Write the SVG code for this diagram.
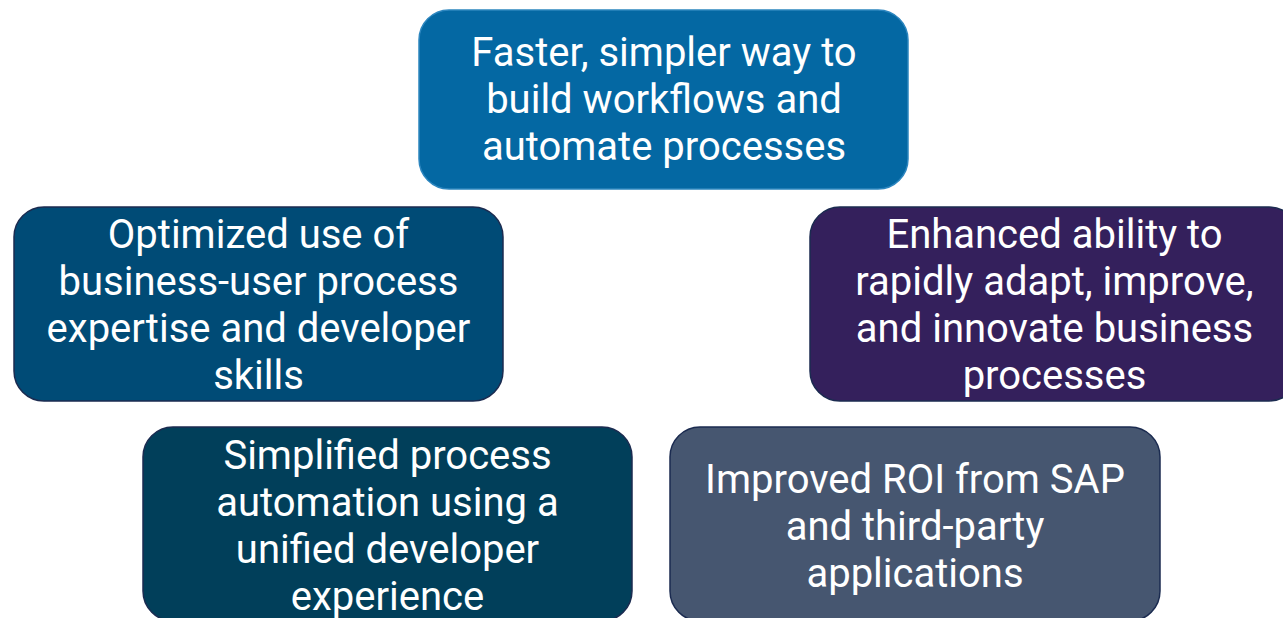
<svg xmlns="http://www.w3.org/2000/svg" width="1283" height="618" viewBox="0 0 1283 618">
<style>
.box{stroke-width:1.5}
.t{font-family:Roboto,"Liberation Sans",sans-serif;font-size:40px;font-weight:400;fill:#ffffff;text-anchor:middle}
</style>
<rect width="1283" height="618" fill="#ffffff"/>
<g id="n1"><rect class="box" x="419" y="10" width="489" height="179" rx="30" fill="#0468A3" stroke="#2d86bf"/>
<text class="t"><tspan x="664" y="66">Faster, simpler way to</tspan><tspan x="664" y="113">build workflows and</tspan><tspan x="664" y="160">automate processes</tspan></text></g>
<g id="n2"><rect class="box" x="14" y="207" width="489" height="194" rx="30" fill="#004B76" stroke="#1b2b50"/>
<text class="t"><tspan x="258.5" y="248">Optimized use of</tspan><tspan x="258.5" y="295">business-user process</tspan><tspan x="258.5" y="342">expertise and developer</tspan><tspan x="258.5" y="389">skills</tspan></text></g>
<g id="n3"><rect class="box" x="810" y="207" width="489" height="194" rx="30" fill="#34205C" stroke="#1b2b50"/>
<text class="t"><tspan x="1054.5" y="248">Enhanced ability to</tspan><tspan x="1054.5" y="295">rapidly adapt, improve,</tspan><tspan x="1054.5" y="342">and innovate business</tspan><tspan x="1054.5" y="389">processes</tspan></text></g>
<g id="n4"><rect class="box" x="143" y="427" width="489" height="194" rx="30" fill="#013F5A" stroke="#1b2b50"/>
<text class="t"><tspan x="387.5" y="469">Simplified process</tspan><tspan x="387.5" y="516">automation using a</tspan><tspan x="387.5" y="563">unified developer</tspan><tspan x="387.5" y="610">experience</tspan></text></g>
<g id="n5"><rect class="box" x="670" y="427" width="490" height="194" rx="30" fill="#465670" stroke="#1b2b50"/>
<text class="t"><tspan x="915" y="493">Improved ROI from SAP</tspan><tspan x="915" y="540">and third-party</tspan><tspan x="915" y="587">applications</tspan></text></g>
<g id="connectors"></g>
</svg>
